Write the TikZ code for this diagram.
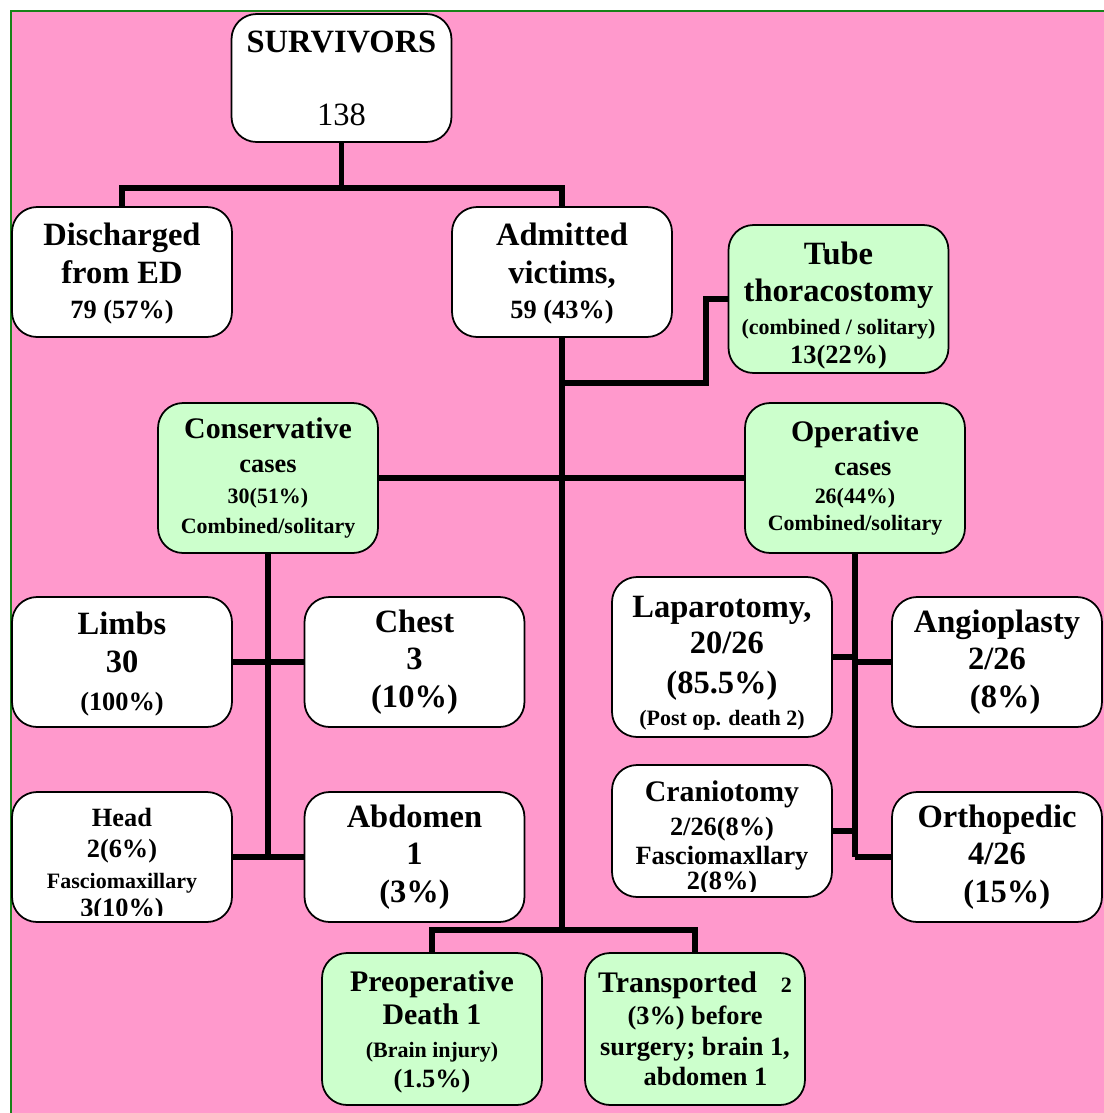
\documentclass[tikz,border=0pt]{standalone}
\usepackage{fontspec}
\setmainfont{Liberation Serif}
\definecolor{bgpink}{RGB}{255,153,204}
\definecolor{boxgreen}{RGB}{204,255,204}
\definecolor{edgegreen}{RGB}{25,130,25}
\newcommand{\lgsz}{\fontsize{18.5}{21.5}\selectfont}
\newcommand{\lgbsz}{\fontsize{17}{20}\selectfont}
\newcommand{\mdsz}{\fontsize{15}{18}\selectfont}
\newcommand{\smsz}{\fontsize{12.5}{16}\selectfont}
\newcommand{\lskip}[1]{\fontsize{15}{#1}\selectfont}

\begin{document}
\begin{tikzpicture}[x=0.02cm,y=-0.02cm,
  box/.style={draw,line width=1pt,rounded corners=0.5cm,fill=white,
    minimum width=4.4cm,minimum height=2.6cm,inner sep=0pt,align=center,font=\bfseries\lgsz},
  gbox/.style={box,fill=boxgreen},
  txt/.style={inner sep=0pt,align=center,font=\bfseries},
  conn/.style={line width=3.4pt}]
\useasboundingbox (0,0) rectangle (1104,1113);
\fill[bgpink] (12,12) rectangle (1104,1113);
\draw[edgegreen,line width=1.7pt] (11,1113) -- (11,11) -- (1104,11);

\node[box,minimum height=2.56cm] (surv) at (341.5,78) {SURVIVORS\\[20pt]\mdseries 138};
\node[box] (dis) at (122,272) {\rule{0pt}{15pt}Discharged\\from ED\\[-1.5pt]\mdsz 79 (57\%)};
\node[box] (adm) at (562,272) {\rule{0pt}{15pt}Admitted\\victims,\\[-1.5pt]\mdsz 59 (43\%)};
\node[gbox,minimum height=2.96cm] (tube) at (838.5,299) {\rule{0pt}{20pt}Tube\\thoracostomy\\[-3pt]\smsz (combined / solitary)\\[-5pt]\mdsz 13(22\%)};
\node[gbox,minimum height=3cm,font=\bfseries\lskip{17.5}] (cons) at (268,478) {\lgbsz Conservative\\[2pt]\mdsz cases\\\smsz 30(51\%)\\\smsz Combined/solitary};
\node[gbox,minimum height=3cm,font=\bfseries\lskip{16}] (oper) at (855,478) {\lgbsz Operative\\[3.3pt]\mdsz\hspace*{0.6em}cases\\[0.4pt]\smsz 26(44\%)\\[-0.7pt]\smsz Combined/solitary};
\node[box] (limbs) at (122,662) {\rule{0pt}{15pt}Limbs\\30\\\mdsz (100\%)};
\node[box] (chest) at (414.5,662) {Chest\\3\\(10\%)};
\node[box] (head) at (122,857) {};
\begin{scope}
\clip (head.north west) rectangle ([yshift=4pt]head.south east);
\node[txt,font=\bfseries\lskip{17.6}] (headtxt) at (122,865) {\mdsz Head\\\mdsz 2(6\%)\\\smsz Fasciomaxillary\\[-1.7pt]\mdsz 3(10\%)};
\end{scope}
\node[box] (abd) at (414.5,857) {Abdomen\\1\\(3\%)};
\node[box,minimum height=3.2cm,font=\bfseries\lskip{20.4}] (lap) at (722,657) {\lgsz\rule{0pt}{19pt}Laparotomy,\\\lgsz\hspace*{0.3em}20/26\\[2.3pt]\lgsz (85.5\%)\\[-2.3pt]\smsz (Post op. death 2)};
\node[box,minimum width=4.2cm] (angio) at (997,662) {Angioplasty\\2/26\\\hspace*{0.5em}(8\%)};
\node[box,minimum height=2.64cm] (cran) at (722,831) {};
\begin{scope}
\clip (cran.north west) rectangle ([yshift=3.5pt]cran.south east);
\node[txt,font=\bfseries\lskip{16.4}] (crantxt) at (722,838) {\lgbsz Craniotomy\\[2.9pt]\mdsz 2/26(8\%)\\\mdsz Fasciomaxllary\\[-1.7pt]\mdsz 2(8\%)};
\end{scope}
\node[box,minimum width=4.2cm] (ortho) at (997,857) {Orthopedic\\4/26\\\hspace*{0.6em}(15\%)};
\node[gbox,minimum height=3.04cm,font=\bfseries\lskip{18.7}] (pre) at (432,1029) {\lgbsz\rule{0pt}{15pt}Preoperative\\[0.6pt]\lgbsz Death 1\\\smsz (Brain injury)\\[-1.7pt]\mdsz (1.5\%)};
\node[gbox,minimum height=3.04cm,font=\bfseries\lskip{17.6}] (trans) at (695,1029) {\lgbsz Transported\hspace{0.8em}{\smsz 2}\\[0.4pt]\mdsz (3\%) before\\\mdsz surgery; brain 1,\\\mdsz\hspace*{0.8em}abdomen 1};

\coordinate (j1) at (341.5,188);
\coordinate (j2) at (562,383);
\coordinate (j3) at (562,930);
\draw[conn] (surv.south) -- (j1);
\draw[conn] (dis.north) |- (j1) -| (adm.north);
\draw[conn] (adm.south) -- (j3);
\draw[conn] (j2) -- ++(144,0) |- (tube.west);
\draw[conn] (cons.east) -- (oper.west);
\draw[conn] (pre.north) |- (j3) -| (trans.north);
\draw[conn] (cons.south) -- (cons.south |- abd.west);
\draw[conn] (limbs.east) -- (chest.west);
\draw[conn] (head.east) -- (abd.west);
\draw[conn] (oper.south) -- (oper.south |- ortho.west);
\draw[conn] (lap.east) -- (lap.east -| oper.south);
\draw[conn] (angio.west) -- (angio.west -| oper.south);
\draw[conn] (cran.east) -- (cran.east -| oper.south);
\draw[conn] (ortho.west) -- (ortho.west -| oper.south);
\end{tikzpicture}
\end{document}
